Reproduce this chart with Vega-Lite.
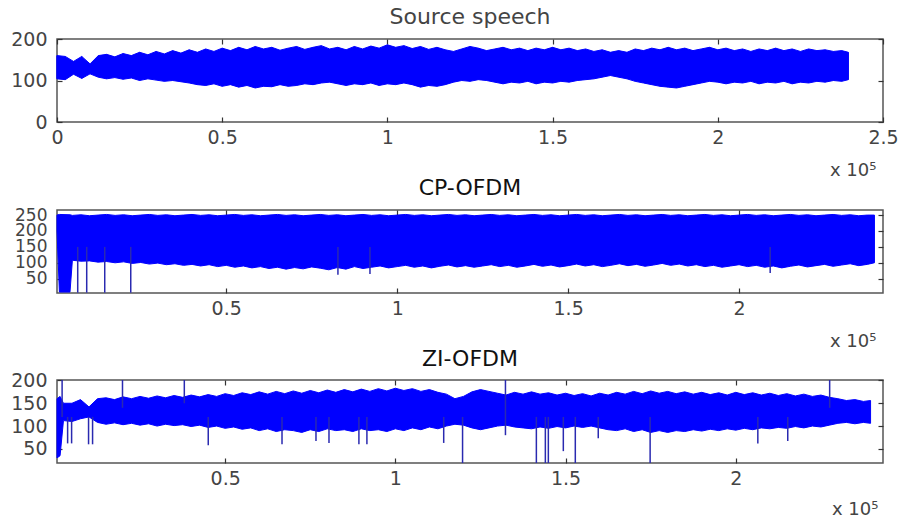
{
  "$schema": "https://vega.github.io/schema/vega-lite/v6.json",
  "padding": {"left": 9, "top": 5, "right": 0, "bottom": 0},
  "config": {
    "font": "DejaVu Sans",
    "view": {"stroke": "#555555", "strokeWidth": 1.5},
    "concat": {"spacing": -4},
    "axis": {"grid": false, "domain": false, "tickColor": "#333333", "tickSize": -5, "tickWidth": 1.2, "labelColor": "#444444", "labelFont": "DejaVu Sans", "labelFontSize": 19, "labelOverlap": false, "labelFlush": false, "titleFont": "DejaVu Sans", "titleFontWeight": "normal", "titleColor": "#444444", "titleFontSize": 18},
    "title": {"fontWeight": "normal", "font": "DejaVu Sans"}
  },
  "datasets": {
    "src": [
      {"x":0,"hi":160,"lo":104},{"x":2500,"hi":158,"lo":102},{"x":5000,"hi":146,"lo":115},{"x":7500,"hi":158,"lo":105},{"x":10000,"hi":140,"lo":116},{"x":12500,"hi":160,"lo":108},{"x":15000,"hi":163,"lo":104},{"x":17500,"hi":157,"lo":107},{"x":20000,"hi":165,"lo":103},{"x":22500,"hi":160,"lo":106},{"x":25000,"hi":168,"lo":100},{"x":27500,"hi":162,"lo":104},{"x":30000,"hi":170,"lo":101},{"x":32500,"hi":164,"lo":98},{"x":35000,"hi":172,"lo":100},{"x":37500,"hi":166,"lo":97},{"x":40000,"hi":174,"lo":94},{"x":42500,"hi":168,"lo":90},{"x":45000,"hi":176,"lo":88},{"x":47500,"hi":170,"lo":92},{"x":50000,"hi":178,"lo":86},{"x":52500,"hi":172,"lo":90},{"x":55000,"hi":180,"lo":84},{"x":57500,"hi":174,"lo":88},{"x":60000,"hi":182,"lo":82},{"x":62500,"hi":176,"lo":86},{"x":65000,"hi":180,"lo":85},{"x":67500,"hi":173,"lo":90},{"x":70000,"hi":178,"lo":86},{"x":72500,"hi":182,"lo":88},{"x":75000,"hi":175,"lo":92},{"x":77500,"hi":180,"lo":90},{"x":80000,"hi":184,"lo":94},{"x":82500,"hi":176,"lo":96},{"x":85000,"hi":180,"lo":92},{"x":87500,"hi":174,"lo":88},{"x":90000,"hi":182,"lo":92},{"x":92500,"hi":176,"lo":90},{"x":95000,"hi":183,"lo":94},{"x":97500,"hi":178,"lo":88},{"x":100000,"hi":186,"lo":92},{"x":102500,"hi":180,"lo":90},{"x":105000,"hi":184,"lo":94},{"x":107500,"hi":177,"lo":90},{"x":110000,"hi":182,"lo":84},{"x":112500,"hi":175,"lo":88},{"x":115000,"hi":180,"lo":86},{"x":117500,"hi":174,"lo":90},{"x":120000,"hi":170,"lo":96},{"x":122500,"hi":176,"lo":100},{"x":125000,"hi":182,"lo":98},{"x":127500,"hi":178,"lo":102},{"x":130000,"hi":172,"lo":100},{"x":132500,"hi":176,"lo":96},{"x":135000,"hi":180,"lo":92},{"x":137500,"hi":174,"lo":96},{"x":140000,"hi":178,"lo":94},{"x":142500,"hi":172,"lo":98},{"x":145000,"hi":178,"lo":92},{"x":147500,"hi":174,"lo":96},{"x":150000,"hi":180,"lo":94},{"x":152500,"hi":174,"lo":98},{"x":155000,"hi":178,"lo":96},{"x":157500,"hi":172,"lo":100},{"x":160000,"hi":176,"lo":102},{"x":162500,"hi":170,"lo":104},{"x":165000,"hi":174,"lo":108},{"x":167500,"hi":168,"lo":112},{"x":170000,"hi":172,"lo":108},{"x":172500,"hi":168,"lo":104},{"x":175000,"hi":176,"lo":98},{"x":177500,"hi":172,"lo":94},{"x":180000,"hi":178,"lo":90},{"x":182500,"hi":174,"lo":86},{"x":185000,"hi":180,"lo":84},{"x":187500,"hi":174,"lo":82},{"x":190000,"hi":178,"lo":86},{"x":192500,"hi":172,"lo":90},{"x":195000,"hi":176,"lo":94},{"x":197500,"hi":180,"lo":98},{"x":200000,"hi":174,"lo":96},{"x":202500,"hi":178,"lo":92},{"x":205000,"hi":172,"lo":96},{"x":207500,"hi":176,"lo":94},{"x":210000,"hi":170,"lo":98},{"x":212500,"hi":176,"lo":92},{"x":215000,"hi":172,"lo":96},{"x":217500,"hi":178,"lo":94},{"x":220000,"hi":172,"lo":98},{"x":222500,"hi":176,"lo":92},{"x":225000,"hi":170,"lo":96},{"x":227500,"hi":176,"lo":94},{"x":230000,"hi":172,"lo":98},{"x":232500,"hi":174,"lo":96},{"x":235000,"hi":170,"lo":100},{"x":237500,"hi":172,"lo":98},{"x":239500,"hi":168,"lo":102}
    ],
    "cp": [
      {"x":500,"hi":250,"lo":200},{"x":1200,"hi":252,"lo":8},{"x":4300,"hi":251,"lo":8},{"x":5000,"hi":249,"lo":108},{"x":7500,"hi":251,"lo":105},{"x":10000,"hi":248,"lo":106},{"x":12500,"hi":250,"lo":102},{"x":15000,"hi":252,"lo":104},{"x":17500,"hi":249,"lo":100},{"x":20000,"hi":251,"lo":103},{"x":22500,"hi":248,"lo":98},{"x":25000,"hi":250,"lo":101},{"x":27500,"hi":252,"lo":96},{"x":30000,"hi":249,"lo":99},{"x":32500,"hi":251,"lo":94},{"x":35000,"hi":248,"lo":97},{"x":37500,"hi":250,"lo":92},{"x":40000,"hi":252,"lo":95},{"x":42500,"hi":249,"lo":90},{"x":45000,"hi":251,"lo":94},{"x":47500,"hi":248,"lo":88},{"x":50000,"hi":250,"lo":92},{"x":52500,"hi":252,"lo":86},{"x":55000,"hi":249,"lo":90},{"x":57500,"hi":251,"lo":84},{"x":60000,"hi":248,"lo":88},{"x":62500,"hi":250,"lo":82},{"x":65000,"hi":252,"lo":86},{"x":67500,"hi":249,"lo":80},{"x":70000,"hi":251,"lo":85},{"x":72500,"hi":248,"lo":81},{"x":75000,"hi":250,"lo":87},{"x":77500,"hi":252,"lo":83},{"x":80000,"hi":249,"lo":78},{"x":82500,"hi":251,"lo":85},{"x":85000,"hi":248,"lo":80},{"x":87500,"hi":250,"lo":88},{"x":90000,"hi":252,"lo":82},{"x":92500,"hi":249,"lo":86},{"x":95000,"hi":251,"lo":90},{"x":97500,"hi":248,"lo":84},{"x":100000,"hi":250,"lo":88},{"x":102500,"hi":252,"lo":92},{"x":105000,"hi":249,"lo":86},{"x":107500,"hi":251,"lo":90},{"x":110000,"hi":248,"lo":84},{"x":112500,"hi":250,"lo":89},{"x":115000,"hi":252,"lo":93},{"x":117500,"hi":249,"lo":87},{"x":120000,"hi":251,"lo":91},{"x":122500,"hi":248,"lo":86},{"x":125000,"hi":250,"lo":90},{"x":127500,"hi":252,"lo":94},{"x":130000,"hi":249,"lo":88},{"x":132500,"hi":251,"lo":92},{"x":135000,"hi":248,"lo":86},{"x":137500,"hi":250,"lo":90},{"x":140000,"hi":252,"lo":95},{"x":142500,"hi":249,"lo":89},{"x":145000,"hi":251,"lo":93},{"x":147500,"hi":248,"lo":87},{"x":150000,"hi":250,"lo":91},{"x":152500,"hi":252,"lo":96},{"x":155000,"hi":249,"lo":90},{"x":157500,"hi":251,"lo":94},{"x":160000,"hi":248,"lo":88},{"x":162500,"hi":250,"lo":92},{"x":165000,"hi":252,"lo":97},{"x":167500,"hi":249,"lo":91},{"x":170000,"hi":251,"lo":95},{"x":172500,"hi":248,"lo":89},{"x":175000,"hi":250,"lo":93},{"x":177500,"hi":252,"lo":98},{"x":180000,"hi":249,"lo":92},{"x":182500,"hi":251,"lo":96},{"x":185000,"hi":248,"lo":90},{"x":187500,"hi":250,"lo":94},{"x":190000,"hi":252,"lo":88},{"x":192500,"hi":249,"lo":92},{"x":195000,"hi":251,"lo":86},{"x":197500,"hi":248,"lo":90},{"x":200000,"hi":250,"lo":94},{"x":202500,"hi":252,"lo":88},{"x":205000,"hi":249,"lo":92},{"x":207500,"hi":251,"lo":86},{"x":210000,"hi":248,"lo":90},{"x":212500,"hi":250,"lo":84},{"x":215000,"hi":252,"lo":89},{"x":217500,"hi":249,"lo":93},{"x":220000,"hi":251,"lo":87},{"x":222500,"hi":248,"lo":91},{"x":225000,"hi":250,"lo":95},{"x":227500,"hi":252,"lo":89},{"x":230000,"hi":249,"lo":93},{"x":232500,"hi":251,"lo":97},{"x":235000,"hi":248,"lo":91},{"x":237500,"hi":250,"lo":95},{"x":239600,"hi":250,"lo":100}
    ],
    "cpSpikes": [
      {"x":6560,"lo":6,"hi":150},{"x":9190,"lo":6,"hi":150},{"x":14460,"lo":6,"hi":150},{"x":22070,"lo":6,"hi":150},{"x":82670,"lo":62,"hi":150},{"x":92040,"lo":65,"hi":150},{"x":209100,"lo":68,"hi":150}
    ],
    "zi": [
      {"x":600,"hi":160,"lo":30},{"x":1500,"hi":165,"lo":35},{"x":2500,"hi":150,"lo":112},{"x":5000,"hi":150,"lo":110},{"x":7500,"hi":158,"lo":116},{"x":10000,"hi":142,"lo":120},{"x":12500,"hi":160,"lo":108},{"x":15000,"hi":162,"lo":104},{"x":17500,"hi":158,"lo":107},{"x":20000,"hi":164,"lo":103},{"x":22500,"hi":160,"lo":106},{"x":25000,"hi":165,"lo":102},{"x":27500,"hi":161,"lo":105},{"x":30000,"hi":166,"lo":100},{"x":32500,"hi":162,"lo":104},{"x":35000,"hi":167,"lo":101},{"x":37500,"hi":163,"lo":103},{"x":40000,"hi":168,"lo":99},{"x":42500,"hi":164,"lo":102},{"x":45000,"hi":169,"lo":97},{"x":47500,"hi":165,"lo":100},{"x":50000,"hi":171,"lo":95},{"x":52500,"hi":167,"lo":98},{"x":55000,"hi":173,"lo":93},{"x":57500,"hi":169,"lo":96},{"x":60000,"hi":175,"lo":90},{"x":62500,"hi":170,"lo":94},{"x":65000,"hi":176,"lo":88},{"x":67500,"hi":171,"lo":92},{"x":70000,"hi":177,"lo":90},{"x":72500,"hi":172,"lo":86},{"x":75000,"hi":178,"lo":92},{"x":77500,"hi":173,"lo":88},{"x":80000,"hi":179,"lo":94},{"x":82500,"hi":174,"lo":90},{"x":85000,"hi":180,"lo":92},{"x":87500,"hi":175,"lo":88},{"x":90000,"hi":181,"lo":94},{"x":92500,"hi":176,"lo":90},{"x":95000,"hi":182,"lo":92},{"x":97500,"hi":177,"lo":88},{"x":100000,"hi":183,"lo":94},{"x":102500,"hi":178,"lo":90},{"x":105000,"hi":182,"lo":96},{"x":107500,"hi":176,"lo":92},{"x":110000,"hi":180,"lo":98},{"x":112500,"hi":174,"lo":94},{"x":115000,"hi":170,"lo":100},{"x":117500,"hi":160,"lo":104},{"x":120000,"hi":165,"lo":102},{"x":122500,"hi":175,"lo":96},{"x":125000,"hi":180,"lo":92},{"x":127500,"hi":176,"lo":96},{"x":130000,"hi":172,"lo":100},{"x":132500,"hi":168,"lo":102},{"x":135000,"hi":174,"lo":98},{"x":137500,"hi":170,"lo":96},{"x":140000,"hi":175,"lo":94},{"x":142500,"hi":170,"lo":98},{"x":145000,"hi":173,"lo":95},{"x":147500,"hi":168,"lo":99},{"x":150000,"hi":172,"lo":96},{"x":152500,"hi":167,"lo":100},{"x":155000,"hi":171,"lo":97},{"x":157500,"hi":166,"lo":100},{"x":160000,"hi":172,"lo":96},{"x":162500,"hi":168,"lo":92},{"x":165000,"hi":174,"lo":90},{"x":167500,"hi":170,"lo":94},{"x":170000,"hi":176,"lo":88},{"x":172500,"hi":171,"lo":92},{"x":175000,"hi":177,"lo":86},{"x":177500,"hi":172,"lo":90},{"x":180000,"hi":176,"lo":86},{"x":182500,"hi":171,"lo":90},{"x":185000,"hi":175,"lo":88},{"x":187500,"hi":170,"lo":92},{"x":190000,"hi":174,"lo":89},{"x":192500,"hi":169,"lo":93},{"x":195000,"hi":173,"lo":90},{"x":197500,"hi":168,"lo":94},{"x":200000,"hi":174,"lo":91},{"x":202500,"hi":169,"lo":95},{"x":205000,"hi":173,"lo":92},{"x":207500,"hi":168,"lo":96},{"x":210000,"hi":172,"lo":94},{"x":212500,"hi":167,"lo":97},{"x":215000,"hi":171,"lo":95},{"x":217500,"hi":166,"lo":99},{"x":220000,"hi":170,"lo":96},{"x":222500,"hi":165,"lo":100},{"x":225000,"hi":168,"lo":98},{"x":227500,"hi":163,"lo":102},{"x":230000,"hi":160,"lo":106},{"x":232500,"hi":156,"lo":108},{"x":235000,"hi":158,"lo":105},{"x":237500,"hi":154,"lo":108},{"x":239600,"hi":156,"lo":106}
    ],
    "ziSpikes": [
      {"x":2100,"lo":120,"hi":201},{"x":3720,"lo":62,"hi":120},{"x":4890,"lo":62,"hi":120},{"x":9870,"lo":60,"hi":120},{"x":11050,"lo":60,"hi":120},{"x":19840,"lo":140,"hi":201},{"x":38000,"lo":150,"hi":201},{"x":45030,"lo":58,"hi":120},{"x":66700,"lo":60,"hi":120},{"x":76680,"lo":67,"hi":120},{"x":80500,"lo":63,"hi":120},{"x":89290,"lo":60,"hi":120},{"x":91640,"lo":60,"hi":120},{"x":114200,"lo":63,"hi":120},{"x":119740,"lo":19,"hi":120},{"x":132340,"lo":80,"hi":201},{"x":141420,"lo":19,"hi":120},{"x":144060,"lo":19,"hi":120},{"x":144940,"lo":19,"hi":120},{"x":149340,"lo":45,"hi":120},{"x":152860,"lo":19,"hi":120},{"x":159600,"lo":73,"hi":120},{"x":174840,"lo":19,"hi":120},{"x":206480,"lo":62,"hi":120},{"x":215270,"lo":67,"hi":120},{"x":227580,"lo":140,"hi":201}
    ]
  },
  "vconcat": [
    {
      "width": 826, "height": 83,
      "title": {"text": "Source speech", "fontSize": 22, "color": "#444444", "offset": 1},
      "resolve": {"axis": {"x": "independent", "y": "independent"}},
      "layer": [
        {
          "data": {"name": "src"},
          "mark": {"type": "area", "color": "#0000ff", "stroke": "#0000ff", "strokeWidth": 1, "opacity": 1},
          "encoding": {
            "x": {"field": "x", "type": "quantitative", "scale": {"domain": [0, 250000], "nice": false, "zero": false},
                  "axis": {"orient": "bottom", "values": [0, 50000, 100000, 150000, 200000, 250000], "labelExpr": "format(datum.value/100000, '~g')", "labelPadding": 11, "title": "x 10⁵", "titleX": 819, "titleY": 48, "titleAlign": "right", "titleBaseline": "middle"}},
            "y": {"field": "lo", "type": "quantitative", "scale": {"domain": [0, 200], "nice": false, "zero": false},
                  "axis": {"orient": "left", "values": [0, 100, 200], "labelPadding": 15, "title": null}},
            "y2": {"field": "hi"}
          }
        },
        {
          "data": {"name": "src"},
          "mark": {"type": "rule", "color": "#0000ff", "strokeWidth": 1},
          "encoding": {
            "x": {"field": "x", "type": "quantitative", "axis": {"orient": "top", "values": [0, 50000, 100000, 150000, 200000, 250000], "labels": false, "title": null}},
            "y": {"field": "lo", "type": "quantitative", "axis": {"orient": "right", "values": [0, 100, 200], "labels": false, "title": null}},
            "y2": {"field": "hi"}
          }
        }
      ]
    },
    {
      "width": 826, "height": 83,
      "title": {"text": "CP-OFDM", "fontSize": 22, "color": "#111111", "offset": 6},
      "resolve": {"axis": {"x": "independent", "y": "independent"}},
      "layer": [
        {
          "data": {"name": "cp"},
          "mark": {"type": "area", "color": "#0000ff", "stroke": "#0000ff", "strokeWidth": 1, "opacity": 1},
          "encoding": {
            "x": {"field": "x", "type": "quantitative", "scale": {"domain": [500, 242100], "nice": false, "zero": false},
                  "axis": {"orient": "bottom", "values": [50000, 100000, 150000, 200000], "labelExpr": "format(datum.value/100000, '~g')", "labelPadding": 11, "title": "x 10⁵", "titleX": 819, "titleY": 48, "titleAlign": "right", "titleBaseline": "middle"}},
            "y": {"field": "lo", "type": "quantitative", "scale": {"domain": [5, 266], "nice": false, "zero": false},
                  "axis": {"orient": "left", "values": [50, 100, 150, 200, 250], "labelPadding": 15, "labelFontSize": 17, "title": null}},
            "y2": {"field": "hi"}
          }
        },
        {
          "data": {"name": "cpSpikes"},
          "mark": {"type": "rule", "color": "#2a2ab0", "strokeWidth": 1.5},
          "encoding": {
            "x": {"field": "x", "type": "quantitative", "axis": {"orient": "top", "values": [50000, 100000, 150000, 200000], "labels": false, "title": null}},
            "y": {"field": "lo", "type": "quantitative", "axis": {"orient": "right", "values": [50, 100, 150, 200, 250], "labels": false, "title": null}},
            "y2": {"field": "hi"}
          }
        }
      ]
    },
    {
      "width": 826, "height": 83,
      "title": {"text": "ZI-OFDM", "fontSize": 22, "color": "#111111", "offset": 0},
      "resolve": {"axis": {"x": "independent", "y": "independent"}},
      "layer": [
        {
          "data": {"name": "zi"},
          "mark": {"type": "area", "color": "#0000ff", "stroke": "#0000ff", "strokeWidth": 1, "opacity": 1},
          "encoding": {
            "x": {"field": "x", "type": "quantitative", "scale": {"domain": [600, 243250], "nice": false, "zero": false},
                  "axis": {"orient": "bottom", "values": [50000, 100000, 150000, 200000], "labelExpr": "format(datum.value/100000, '~g')", "labelPadding": 11, "title": "x 10⁵", "titleX": 821, "titleY": 46, "titleAlign": "right", "titleBaseline": "middle"}},
            "y": {"field": "lo", "type": "quantitative", "scale": {"domain": [19, 201], "nice": false, "zero": false},
                  "axis": {"orient": "left", "values": [50, 100, 150, 200], "labelPadding": 15, "title": null}},
            "y2": {"field": "hi"}
          }
        },
        {
          "data": {"name": "ziSpikes"},
          "mark": {"type": "rule", "color": "#2a2ab0", "strokeWidth": 1.5},
          "encoding": {
            "x": {"field": "x", "type": "quantitative", "axis": {"orient": "top", "values": [50000, 100000, 150000, 200000], "labels": false, "title": null}},
            "y": {"field": "lo", "type": "quantitative", "axis": {"orient": "right", "values": [50, 100, 150, 200], "labels": false, "title": null}},
            "y2": {"field": "hi"}
          }
        }
      ]
    }
  ]
}
